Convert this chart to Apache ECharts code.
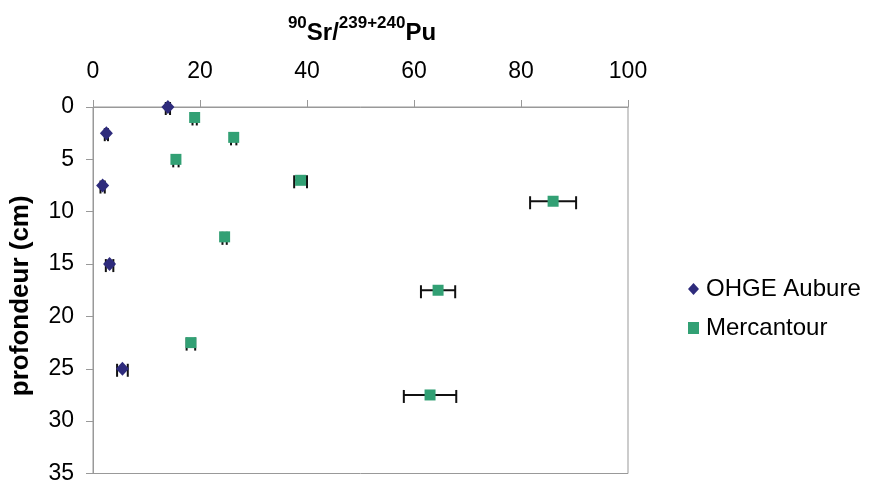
<!DOCTYPE html>
<html><head><meta charset="utf-8">
<script src="https://cdn.jsdelivr.net/npm/echarts@6/dist/echarts.min.js"></script>
<style>html,body{margin:0;padding:0;background:#fff}#c{width:874px;height:485px}</style>
</head><body><div id="c"></div>
<script>
// Data
const xTicks = [0, 20, 40, 60, 80, 100];
const yTicks = [0, 5, 10, 15, 20, 25, 30, 35];
const ohgeX = [14, 2.5, 1.8, 3.1, 5.5];
const ohgeY = [0, 2.5, 7.5, 15, 25];
const ohgeErr = [0.4, 0.3, 0.4, 0.7, 1.0];
const mercX = [19, 26.3, 15.5, 38.8, 86, 24.6, 64.5, 18.3, 63];
const mercY = [1, 2.9, 5, 7, 9, 12.4, 17.5, 22.5, 27.5];
const mercErr = [0.4, 0.5, 0.5, 1.2, 4.3, 0.4, 3.2, 0.8, 4.9];

const FONT = '"Liberation Sans", Arial, sans-serif';
const pts = (xs, ys) => xs.map((x, i) => [x, ys[i]]);
const errData = (xs, ys, es) => xs.map((x, i) => [x - es[i], x + es[i], ys[i]]);

function renderErr(params, api) {
  const lo = api.coord([api.value(0), api.value(2)]);
  const hi = api.coord([api.value(1), api.value(2)]);
  const st = {stroke: '#111', lineWidth: 2};
  return {type: 'group', children: [
    {type: 'line', shape: {x1: lo[0], y1: lo[1], x2: hi[0], y2: hi[1]}, style: st},
    {type: 'line', shape: {x1: lo[0], y1: lo[1] - 5, x2: lo[0], y2: lo[1] + 8}, style: st},
    {type: 'line', shape: {x1: hi[0], y1: hi[1] - 5, x2: hi[0], y2: hi[1] + 8}, style: st}
  ]};
}

const chart = echarts.init(document.getElementById('c'));
chart.setOption({
  animation: false,
  backgroundColor: '#fff',
  title: {
    text: '{sup|90}{b|Sr/}{sup|239+240}{b|Pu}',
    left: 357, top: 10, textAlign: 'center',
    textStyle: {rich: {
      b: {fontFamily: FONT, fontWeight: 'bold', fontSize: 24, color: '#000', verticalAlign: 'bottom', lineHeight: 30},
      sup: {fontFamily: FONT, fontWeight: 'bold', fontSize: 17, color: '#000', verticalAlign: 'top', lineHeight: 30, padding: [0, 0, 12, 0]}
    }}
  },
  legend: {
    orient: 'vertical', left: 683, top: 272, itemGap: 15,
    itemWidth: 11, itemHeight: 12,
    textStyle: {fontFamily: FONT, fontSize: 24, color: '#000', padding: [0, 0, 0, 2]},
    data: [{name: 'OHGE Aubure', icon: 'diamond'}, {name: 'Mercantour', icon: 'rect'}]
  },
  grid: {left: 91, top: 107, width: 537, height: 368, show: true, borderColor: '#999', borderWidth: 1},
  xAxis: {
    type: 'value', position: 'top', min: xTicks[0], max: xTicks[xTicks.length - 1], interval: 20,
    axisLine: {show: true, lineStyle: {color: '#999'}},
    axisTick: {show: true, length: 7, lineStyle: {color: '#999'}},
    splitLine: {show: false},
    axisLabel: {fontFamily: FONT, fontSize: 23, color: '#000', margin: 24}
  },
  yAxis: {
    type: 'value', inverse: true, min: yTicks[0], max: yTicks[yTicks.length - 1], interval: 5,
    name: 'profondeur (cm)', nameLocation: 'middle', nameGap: 59, nameRotate: 90,
    nameTextStyle: {fontFamily: FONT, fontSize: 26, fontWeight: 'bold', color: '#000', padding: [0, 11, 0, 0]},
    axisLine: {show: true, lineStyle: {color: '#999'}},
    axisTick: {show: true, length: 7, lineStyle: {color: '#999'}},
    splitLine: {show: false},
    axisLabel: {fontFamily: FONT, fontSize: 23, color: '#000', margin: 19}
  },
  series: [
    {type: 'custom', name: 'errO', renderItem: renderErr, data: errData(ohgeX, ohgeY, ohgeErr), z: 1, silent: true,
     encode: {x: [0, 1], y: 2}},
    {type: 'custom', name: 'errM', renderItem: renderErr, data: errData(mercX, mercY, mercErr), z: 1, silent: true,
     encode: {x: [0, 1], y: 2}},
    {type: 'scatter', name: 'OHGE Aubure', symbol: 'diamond', symbolSize: [13, 14], z: 3,
     itemStyle: {color: '#2E2B7C', opacity: 1}, data: pts(ohgeX, ohgeY)},
    {type: 'scatter', name: 'Mercantour', symbol: 'rect', symbolSize: 11, z: 3,
     itemStyle: {color: '#32A074', opacity: 1}, data: pts(mercX, mercY)}
  ]
});
</script></body></html>
